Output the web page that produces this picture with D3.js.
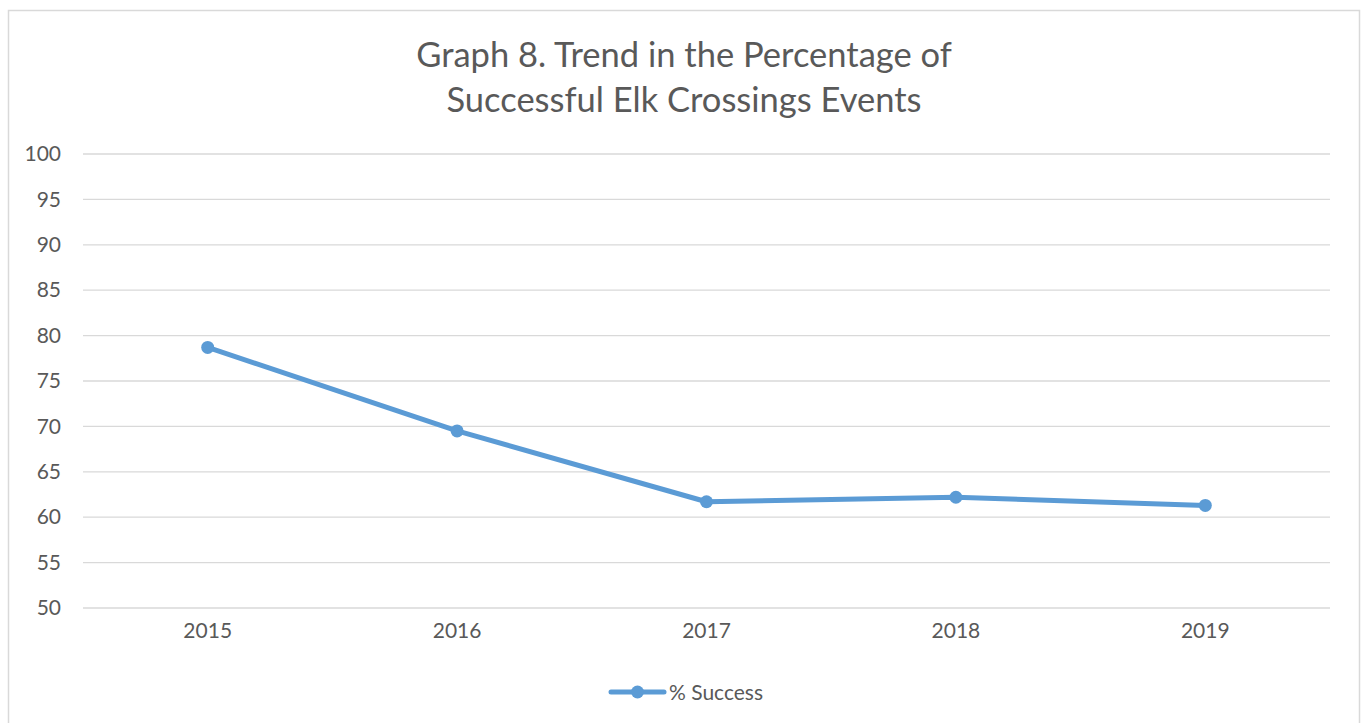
<!DOCTYPE html>
<html>
<head>
<meta charset="utf-8">
<script src="https://cdn.jsdelivr.net/npm/d3@7"></script>
<style>
  body { margin: 0; background: #fff; }
  svg text { font-family: Lato, "Open Sans", sans-serif; fill: #595959; }
</style>
</head>
<body>
<svg id="chart" width="1364" height="723"></svg>
<script>
// chart data
const years = ['2015', '2016', '2017', '2018', '2019'];
const successPct = [78.7, 69.5, 61.7, 62.2, 61.3];
const yTicks = [50, 55, 60, 65, 70, 75, 80, 85, 90, 95, 100];
const titleLines = ['Graph 8. Trend in the Percentage of', 'Successful Elk Crossings Events'];
const seriesName = '% Success';

const svg = d3.select('#chart');
const width = 1364, height = 723;
const margin = { left: 83, right: 34, top: 154, bottom: 115 };
const color = '#5b9bd5';

// outer chart border (bottom runs off the picture)
svg.append('rect')
  .attr('x', 8.5).attr('y', 10.5)
  .attr('width', 1351).attr('height', 740)
  .attr('fill', 'none').attr('stroke', '#d9d9d9').attr('stroke-width', 1.5);

const x = d3.scaleBand()
  .domain(years)
  .range([margin.left, width - margin.right]);

const y = d3.scaleLinear()
  .domain([50, 100])
  .range([height - margin.bottom, margin.top]);

// title
svg.append('g').selectAll('text')
  .data(titleLines)
  .enter().append('text')
  .attr('x', 684)
  .attr('y', (d, i) => 67 + i * 45)
  .attr('text-anchor', 'middle')
  .attr('font-size', '34.5px')
  .text(d => d);

// gridlines
svg.append('g').selectAll('line')
  .data(yTicks)
  .enter().append('line')
  .attr('x1', margin.left).attr('x2', width - margin.right)
  .attr('y1', d => y(d)).attr('y2', d => y(d))
  .attr('stroke', '#d9d9d9').attr('stroke-width', 1.3);

// y axis
const yAxis = svg.append('g')
  .attr('transform', `translate(${margin.left},0)`)
  .call(d3.axisLeft(y).tickValues(yTicks).tickSize(0).tickPadding(22));
yAxis.select('.domain').remove();
yAxis.selectAll('text').attr('font-size', '21px').attr('fill', '#595959')
  .style('font-family', 'Lato, "Open Sans", sans-serif');

// x axis
const xAxis = svg.append('g')
  .attr('transform', `translate(0,${height - margin.bottom})`)
  .call(d3.axisBottom(x).tickSize(0).tickPadding(15));
xAxis.select('.domain').remove();
xAxis.selectAll('text').attr('font-size', '21px').attr('fill', '#595959')
  .style('font-family', 'Lato, "Open Sans", sans-serif');

// series line
const points = years.map((yr, i) => ({ year: yr, value: successPct[i] }));
const line = d3.line()
  .x(d => x(d.year) + x.bandwidth() / 2)
  .y(d => y(d.value));

svg.append('path')
  .datum(points)
  .attr('d', line)
  .attr('fill', 'none')
  .attr('stroke', color)
  .attr('stroke-width', 5)
  .attr('stroke-linejoin', 'round')
  .attr('stroke-linecap', 'round');

svg.append('g').selectAll('circle')
  .data(points)
  .enter().append('circle')
  .attr('cx', d => x(d.year) + x.bandwidth() / 2)
  .attr('cy', d => y(d.value))
  .attr('r', 6.5)
  .attr('fill', color);

// legend
const legend = svg.append('g').attr('transform', 'translate(611,692)');
legend.append('line')
  .attr('x1', 0).attr('x2', 53)
  .attr('stroke', color).attr('stroke-width', 5).attr('stroke-linecap', 'round');
legend.append('circle').attr('cx', 26.5).attr('cy', 0).attr('r', 6.5).attr('fill', color);
legend.append('text')
  .attr('x', 58).attr('y', 7.5)
  .attr('font-size', '21px')
  .text(seriesName);
</script>
</body>
</html>
